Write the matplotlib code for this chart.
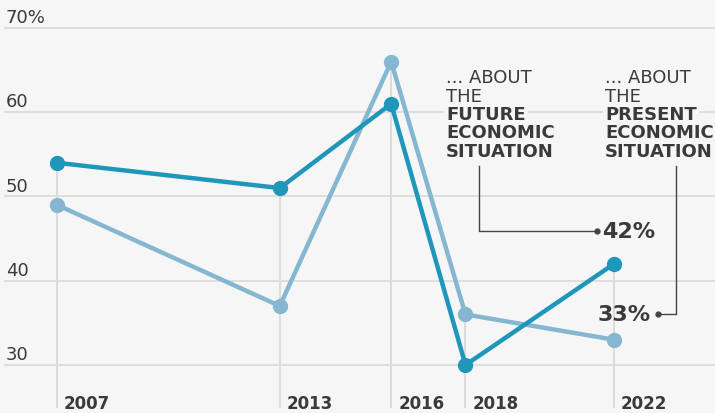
import matplotlib
matplotlib.use("Agg")
import matplotlib.pyplot as plt
from matplotlib.lines import Line2D

years = [2007, 2013, 2016, 2018, 2022]
future = [54, 51, 61, 30, 42]
present = [49, 37, 66, 36, 33]
yticks = [30, 40, 50, 60, 70]
ytick_labels = ["30", "40", "50", "60", "70%"]

BG = "#f6f6f6"
DARK = "#1e97bb"
LIGHT = "#86b7d0"
GRID = "#dcdcdc"
TXT = "#3a3a3a"

W, H = 715, 414
fig = plt.figure(figsize=(W / 100, H / 100), dpi=100, facecolor=BG)
ax = fig.add_axes([0, 0, 1, 1], facecolor=BG)
ax.set_xlim(2005.465, 2024.72)
ax.set_ylim(24.30, 73.44)
ax.axis("off")
plt.rcParams['font.family'] = ['DejaVu Sans']

def fx(px):
    return px / W

def fy(py):
    return 1 - py / H

# horizontal gridlines + labels
x_left = 2005.465 + 5 / 37.13
for v, lab in zip(yticks, ytick_labels):
    ax.plot([x_left, 2024.72], [v, v], color=GRID, lw=1.3, zorder=1)
    ax.text(x_left + 0.02, v + 0.7, lab, fontsize=13, color=TXT,
            ha="left", va="baseline", zorder=2)

# vertical lines from points down + year labels
for yr, a, b in zip(years, future, present):
    ax.plot([yr, yr], [max(a, b), 25.0], color=GRID, lw=1.4, zorder=1)
    ax.text(yr + 0.19, 24.95, str(yr), fontsize=12, fontweight="bold",
            color=TXT, ha="left", va="baseline", zorder=2)

# series
ax.plot(years, present, color=LIGHT, lw=3.2, marker="o", ms=10,
        solid_capstyle="round", zorder=3)
ax.plot(years, future, color=DARK, lw=3.2, marker="o", ms=10,
        solid_capstyle="round", zorder=4)

# annotation blocks
def block(x, lines):
    y0 = 83
    for i, (txt, bold) in enumerate(lines):
        fig.text(fx(x), fy(y0 + i * 18.5), txt, fontsize=13,
                 fontweight="bold" if bold else "normal", color=TXT,
                 ha="left", va="baseline", zorder=6,
                 bbox=dict(boxstyle="square,pad=0.12", fc=BG, ec="none"))

block(446, [("... ABOUT", False), ("THE", False), ("FUTURE", True),
            ("ECONOMIC", True), ("SITUATION", True)])
block(605, [("... ABOUT", False), ("THE", False), ("PRESENT", True),
            ("ECONOMIC", True), ("SITUATION", True)])

LC = "#444444"
# connector for future
fig.add_artist(Line2D([fx(479), fx(479), fx(597)], [fy(167), fy(232), fy(232)],
                      color=LC, lw=1.0))
fig.add_artist(Line2D([fx(597)], [fy(232)], marker="o", ms=3.5, color=LC))
fig.text(fx(602), fy(232), f"{future[-1]}%", fontsize=16, fontweight="bold",
         color=TXT, ha="left", va="center")
# connector for present
fig.add_artist(Line2D([fx(676), fx(676), fx(658)], [fy(167), fy(315), fy(315)],
                      color=LC, lw=1.0))
fig.add_artist(Line2D([fx(658)], [fy(315)], marker="o", ms=3.5, color=LC))
fig.text(fx(651), fy(315), f"{present[-1]}%", fontsize=16, fontweight="bold",
         color=TXT, ha="right", va="center")

fig.savefig("out.png", dpi=100, facecolor=BG)
